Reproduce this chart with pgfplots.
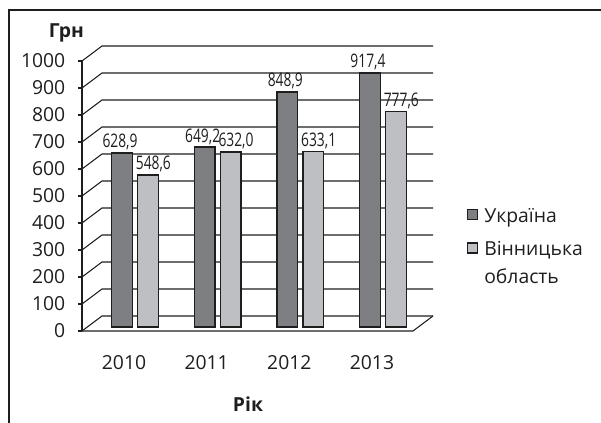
\documentclass[border=0pt]{standalone}
\usepackage{fontspec}
\setmainfont{Open Sans}
\newfontfamily\condfont[FakeStretch=0.74]{Open Sans}
\usepackage{pgfplots}
\pgfplotsset{compat=1.18}
\definecolor{ukr}{HTML}{7E7F83}
\definecolor{vin}{HTML}{BEBFC3}
\definecolor{ln}{HTML}{1E1E1E}
\newcommand{\lbl}{\fontsize{14.5}{17.5}\selectfont}

\begin{document}
\begin{tikzpicture}[x=1pt,y=1pt]
\useasboundingbox (0,0) rectangle (450.75,-317.25);
\draw[line width=1.6pt, ln] (6.6,-340) -- (6.6,-7.4) -- (470,-7.4);

% front value axis, back wall and floor
\begin{axis}[
  scale only axis, at={(61.5pt,-248.25pt)}, anchor=south west,
  width=248.25pt, height=202.5pt,
  xmin=0, xmax=1, ymin=0, ymax=1000,
  axis x line=none, axis y line=left,
  axis line style={-, ln, line width=0.8pt},
  ytick={0,100,...,1000}, tick align=outside, major tick length=3pt,
  tick style={ln, line width=0.8pt},
  /pgf/number format/assume math mode=true,
  yticklabel style={font=\lbl, text=ln, xshift=-6pt, /pgf/number format/1000 sep={}},
  ylabel={\bfseries Грн},
  ylabel style={rotate=-90, anchor=center, font=\lbl, text=ln,
    at={(axis description cs:-0.047,1.104)}},
  clip=false,
]
\pgfplotsinvokeforeach{0,100,...,1000}{
  \draw[ln, line width=0.8pt] (axis cs:0,#1) -- ++(15pt,11.25pt) -- ++(248.25pt,0pt);
}
\draw[ln, line width=0.8pt] (axis cs:0,0) -- (axis cs:1,0) -- ++(15pt,11.25pt);
\end{axis}

% bars
\begin{axis}[
  scale only axis, at={(70.275pt,-245.25pt)}, anchor=south west,
  width=247.95pt, height=207.75pt,
  xmin=-0.5, xmax=3.5, ymin=0, ymax=1000,
  axis line style={draw=none}, ytick=\empty,
  xtick={0,1,2,3}, xticklabels={2010,2011,2012,2013},
  major tick length=0pt,
  xticklabel style={anchor=center, xshift=-8.25pt, yshift=-27pt, font=\lbl, text=ln},
  xlabel={\bfseries Рік},
  xlabel style={at={(axis description cs:0.4667,-0.278)}, anchor=center, font=\lbl, text=ln},
  ybar=4.1pt, bar width=15.4pt,
  /pgf/number format/assume math mode=true,
  /pgf/number format/use comma,
  /pgf/number format/fixed,
  /pgf/number format/fixed zerofill,
  /pgf/number format/precision=1,
  nodes near coords,
  nodes near coords style={font=\condfont\fontsize{14}{16}\selectfont, text=ln,
    anchor=south, inner sep=1.5pt},
  legend cell align=left,
  legend style={draw=none, fill=none, font=\lbl, text=ln, inner sep=0pt,
    at={(axis description cs:1.129,0.438)}, anchor=north west,
    row sep=7.2pt, cells={anchor=base west}},
  legend image code/.code={
    \draw[#1, line width=0.9pt] (0pt,2.25pt) rectangle (7.5pt,9.75pt);
    \path (9.8pt,2.25pt);},
  clip=false,
]
\addplot[fill=ukr, draw=ln, line width=1.1pt,
  nodes near coords style={xshift=-1.5pt}]
  coordinates {(0,628.9) (1,649.2) (2,848.9) (3,917.4)};
\addlegendentry{Україна}
\addplot[fill=vin, draw=ln, line width=1.1pt,
  nodes near coords style={xshift=4pt}]
  coordinates {(0,548.6) (1,632.0) (2,633.1) (3,777.6)};
\addlegendentry{\begin{tabular}[t]{@{}l@{}}Вінницька\\[3.5pt]область\end{tabular}}
\end{axis}
\end{tikzpicture}
\end{document}
